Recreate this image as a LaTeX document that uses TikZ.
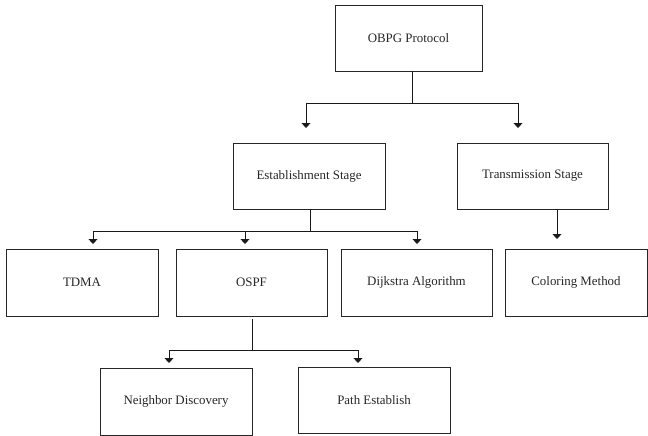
\documentclass[tikz,border=0pt]{standalone}
\usepackage{fontspec}
\setmainfont{Liberation Serif}
\usetikzlibrary{arrows.meta}
\begin{document}
\begin{tikzpicture}[x=1pt,y=-1pt,
  box/.style={draw=black!85, line width=0.9pt, minimum width=151pt, minimum height=66pt,
    inner sep=0pt, font=\fontsize{12.9}{15}\selectfont, text=black!85},
  conn/.style={line width=0.8pt, draw=black!90},
  arr/.style={conn, -{Triangle[width=9pt,length=5pt]}}]
\useasboundingbox (0,0) rectangle (648,436);
% boxes
\node[box, minimum width=147pt] (obpg) at (408.5,38) {OBPG Protocol};
\node[box, minimum width=152pt] (est) at (309,176) {Establishment Stage};
\node[box] (tr) at (532.5,176) {Transmission Stage};
\node[box, minimum width=152pt, minimum height=67pt] (tdma) at (82,282.5) {TDMA};
\node[box, minimum height=67pt] (ospf) at (251.5,282.5) {OSPF};
\node[box, minimum height=67pt] (dij) at (416.5,282.5) {Dijkstra Algorithm};
\node[box, minimum width=142pt, minimum height=67pt] (col) at (576,282.5) {Coloring Method};
\node[box, minimum width=152pt, minimum height=67pt] (nd) at (176,401.5) {Neighbor Discovery};
\node[box, minimum width=152pt] (pe) at (374,400) {Path Establish};
% junctions and arrow tips
\coordinate (j1) at (412,103);
\coordinate (tEst) at (306,128);
\coordinate (tTr) at (518,128);
\coordinate (j2) at (310,231);
\coordinate (tTdma) at (93,244);
\coordinate (tOspf) at (245,244);
\coordinate (tDij) at (417,244);
\coordinate (tCol) at (557,239);
\coordinate (j3) at (252,350);
\coordinate (tNd) at (169,363);
\coordinate (tPe) at (358,363);
% connectors
\draw[conn] (obpg.south -| j1) -- (j1);
\draw[arr] (j1) -| (tEst);
\draw[arr] (j1) -| (tTr);
\draw[conn] (est.south -| j2) -- (j2);
\draw[arr] (j2) -| (tTdma);
\draw[arr] (j2) -| (tOspf);
\draw[arr] (j2) -| (tDij);
\draw[arr] (tr.south -| tCol) -- (tCol);
\draw[conn, shorten <=3pt] (ospf.south -| j3) -- (j3);
\draw[arr] (j3) -| (tNd);
\draw[arr] (j3) -| (tPe);
\end{tikzpicture}
\end{document}
